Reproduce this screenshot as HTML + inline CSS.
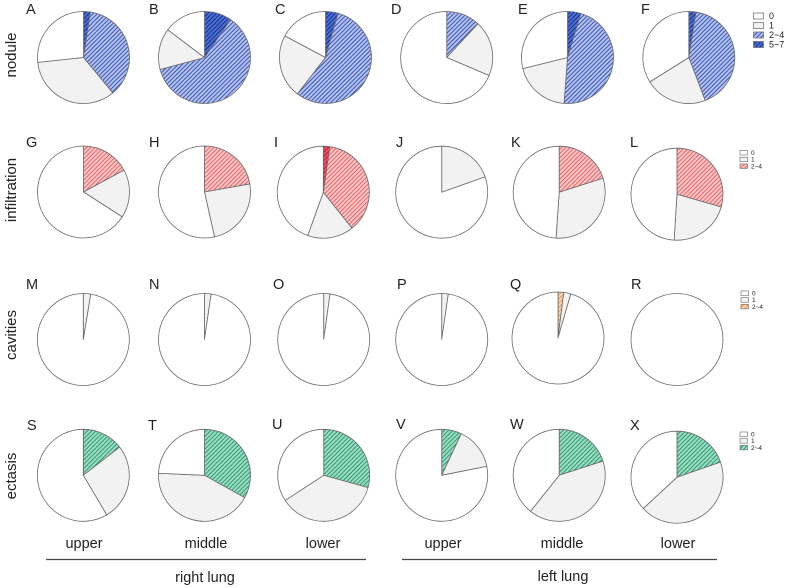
<!DOCTYPE html>
<html>
<head>
<meta charset="utf-8">
<style>
  html,body{margin:0;padding:0;background:#fff;}
  svg{display:block;}
  text{font-family:"Liberation Sans",Arial,sans-serif;fill:#222;}
</style>
</head>
<body>
<svg id="chart" xmlns="http://www.w3.org/2000/svg" width="787" height="588" viewBox="0 0 787 588">
  <defs>
    <pattern id="pBlueL" patternUnits="userSpaceOnUse" width="3" height="3" patternTransform="rotate(45)">
      <rect width="3" height="3" fill="#b4c2ef"/>
      <line x1="0.5" y1="0" x2="0.5" y2="3" stroke="#3d56b6" stroke-width="1"/>
    </pattern>
    <pattern id="pBlueD" patternUnits="userSpaceOnUse" width="3" height="3" patternTransform="rotate(45)">
      <rect width="3" height="3" fill="#4c70d6"/>
      <line x1="0.5" y1="0" x2="0.5" y2="3" stroke="#16308a" stroke-width="1.1"/>
    </pattern>
    <pattern id="pRedL" patternUnits="userSpaceOnUse" width="3" height="3" patternTransform="rotate(45)">
      <rect width="3" height="3" fill="#fac6c6"/>
      <line x1="0.5" y1="0" x2="0.5" y2="3" stroke="#e45a5e" stroke-width="0.9"/>
    </pattern>
    <pattern id="pRedD" patternUnits="userSpaceOnUse" width="3" height="3" patternTransform="rotate(45)">
      <rect width="3" height="3" fill="#ec5262"/>
      <line x1="0.5" y1="0" x2="0.5" y2="3" stroke="#c01c30" stroke-width="1"/>
    </pattern>
    <pattern id="pOrange" patternUnits="userSpaceOnUse" width="3" height="3" patternTransform="rotate(45)">
      <rect width="3" height="3" fill="#fbd6b6"/>
      <line x1="0.5" y1="0" x2="0.5" y2="3" stroke="#e8904c" stroke-width="0.9"/>
    </pattern>
    <pattern id="pGreen" patternUnits="userSpaceOnUse" width="3" height="3" patternTransform="rotate(45)">
      <rect width="3" height="3" fill="#9cdcc2"/>
      <line x1="0.5" y1="0" x2="0.5" y2="3" stroke="#2e9a72" stroke-width="1"/>
    </pattern>
  </defs>

  <!-- row labels -->
  <text transform="translate(16,55) rotate(-90)" text-anchor="middle" font-size="15">nodule</text>
  <text transform="translate(16,190) rotate(-90)" text-anchor="middle" font-size="15">infiltration</text>
  <text transform="translate(16,335) rotate(-90)" text-anchor="middle" font-size="15">cavities</text>
  <text transform="translate(16,476) rotate(-90)" text-anchor="middle" font-size="15">ectasis</text>

  <!-- panel letters -->
  <g font-size="14.5">
    <text x="26" y="14">A</text><text x="149" y="14">B</text><text x="275" y="14">C</text>
    <text x="391" y="14">D</text><text x="518" y="14">E</text><text x="641" y="14">F</text>
    <text x="26" y="147">G</text><text x="149" y="147">H</text><text x="274" y="147">I</text>
    <text x="396" y="147">J</text><text x="511" y="147">K</text><text x="630" y="147">L</text>
    <text x="26" y="289">M</text><text x="149" y="289">N</text><text x="273" y="289">O</text>
    <text x="397" y="289">P</text><text x="510" y="289">Q</text><text x="631" y="289">R</text>
    <text x="27" y="430">S</text><text x="148" y="430">T</text><text x="272" y="429">U</text>
    <text x="396" y="429">V</text><text x="510" y="429">W</text><text x="630" y="430">X</text>
  </g>

  <g id="pies"></g>

  <!-- legends -->
  <g font-size="9">
    <rect x="753.5" y="13" width="10" height="6" fill="#fff" stroke="#666" stroke-width="0.7"/>
    <text x="769" y="19">0</text>
    <rect x="753.5" y="22.5" width="10" height="6" fill="#f2f2f2" stroke="#666" stroke-width="0.7"/>
    <text x="769" y="28.5">1</text>
    <rect x="753.5" y="32" width="10" height="6" fill="url(#pBlueL)" stroke="#666" stroke-width="0.7"/>
    <text x="769" y="38">2~4</text>
    <rect x="753.5" y="41.5" width="10" height="6" fill="url(#pBlueD)" stroke="#666" stroke-width="0.7"/>
    <text x="769" y="47.5">5~7</text>
  </g>
  <g font-size="6.5">
    <rect x="740" y="150.5" width="7.5" height="4.5" fill="#fff" stroke="#666" stroke-width="0.6"/>
    <text x="751" y="155">0</text>
    <rect x="740" y="157.2" width="7.5" height="4.5" fill="#f2f2f2" stroke="#666" stroke-width="0.6"/>
    <text x="751" y="161.7">1</text>
    <rect x="740" y="163.9" width="7.5" height="4.5" fill="url(#pRedL)" stroke="#666" stroke-width="0.6"/>
    <text x="751" y="168.4">2~4</text>

    <rect x="741" y="291" width="7.5" height="4.5" fill="#fff" stroke="#666" stroke-width="0.6"/>
    <text x="752" y="295.5">0</text>
    <rect x="741" y="297.7" width="7.5" height="4.5" fill="#f2f2f2" stroke="#666" stroke-width="0.6"/>
    <text x="752" y="302.2">1</text>
    <rect x="741" y="304.4" width="7.5" height="4.5" fill="url(#pOrange)" stroke="#666" stroke-width="0.6"/>
    <text x="752" y="308.9">2~4</text>

    <rect x="740" y="432" width="7.5" height="4.5" fill="#fff" stroke="#666" stroke-width="0.6"/>
    <text x="751" y="436.5">0</text>
    <rect x="740" y="438.7" width="7.5" height="4.5" fill="#f2f2f2" stroke="#666" stroke-width="0.6"/>
    <text x="751" y="443.2">1</text>
    <rect x="740" y="445.4" width="7.5" height="4.5" fill="url(#pGreen)" stroke="#666" stroke-width="0.6"/>
    <text x="751" y="449.9">2~4</text>
  </g>

  <!-- bottom labels -->
  <g font-size="14.5" text-anchor="middle">
    <text x="84" y="548">upper</text>
    <text x="206" y="548">middle</text>
    <text x="323" y="548">lower</text>
    <text x="443" y="548">upper</text>
    <text x="562" y="548">middle</text>
    <text x="678" y="548">lower</text>
    <text x="205" y="582">right lung</text>
    <text x="563" y="581">left lung</text>
  </g>
  <line x1="46" y1="559.5" x2="366" y2="559.5" stroke="#444" stroke-width="1.3"/>
  <line x1="402" y1="559.5" x2="717" y2="559.5" stroke="#444" stroke-width="1.3"/>
</svg>
<script>
(function(){
  var g = document.getElementById('pies');
  var NS = 'http://www.w3.org/2000/svg';
  var R = 46;
  var rows = [
    {fills:['url(#pBlueD)','url(#pBlueL)','#f2f2f2','#ffffff'], pies:[
      [83.5,57.5,[0.024,0.39,0.733]],
      [204.5,57.5,[0.096,0.708,0.853]],
      [325.5,57.5,[0.044,0.605,0.828]],
      [446.7,57.5,[0,0.119,0.314]],
      [567.5,57.5,[0.047,0.512,0.711]],
      [688.8,57.5,[0.025,0.442,0.661]]
    ]},
    {fills:['url(#pRedD)','url(#pRedL)','#f2f2f2','#ffffff'], pies:[
      [83.5,192,[0,0.171,0.341]],
      [204.5,192,[0,0.222,0.465]],
      [323.3,192.2,[0.023,0.393,0.555]],
      [441.7,192.2,[0,0,0.196]],
      [559.2,192.2,[0,0.201,0.511]],
      [677,194.2,[0,0.295,0.510]]
    ]},
    {fills:['url(#pOrange)','url(#pOrange)','#f2f2f2','#ffffff'], pies:[
      [83.3,339.5,[0,0,0.026]],
      [204.5,339.5,[0,0,0.023]],
      [323.7,339.5,[0,0,0.022]],
      [441.7,339.5,[0,0,0.023]],
      [558,338,[0,0.02,0.045]],
      [677,339.5,[0,0,0]]
    ]},
    {fills:['url(#pGreen)','url(#pGreen)','#f2f2f2','#ffffff'], pies:[
      [83.3,475.3,[0,0.145,0.415]],
      [204.5,475.3,[0,0.331,0.757]],
      [323.7,475.3,[0,0.293,0.658]],
      [441.7,475.3,[0,0.07,0.219]],
      [559.2,475.3,[0,0.2,0.607]],
      [677,477.2,[0,0.197,0.631]]
    ]}
  ];
  function pt(cx,cy,f){
    var a = 2*Math.PI*f;
    return [cx + R*Math.sin(a), cy - R*Math.cos(a)];
  }
  rows.forEach(function(row){
    row.pies.forEach(function(p){
      var cx=p[0], cy=p[1], b=p[2];
      var edges=[0,b[0],b[1],b[2],1];
      for(var i=0;i<4;i++){
        var s=edges[i], e=edges[i+1];
        if(e-s<=1e-6) continue;
        var el;
        if(e-s>=0.9999){
          el=document.createElementNS(NS,'circle');
          el.setAttribute('cx',cx);el.setAttribute('cy',cy);el.setAttribute('r',R);
        } else {
          var p1=pt(cx,cy,s), p2=pt(cx,cy,e);
          var large=(e-s)>0.5?1:0;
          el=document.createElementNS(NS,'path');
          el.setAttribute('d','M'+cx+' '+cy+' L'+p1[0].toFixed(2)+' '+p1[1].toFixed(2)+
            ' A'+R+' '+R+' 0 '+large+' 1 '+p2[0].toFixed(2)+' '+p2[1].toFixed(2)+' Z');
        }
        el.setAttribute('fill',row.fills[i]);
        el.setAttribute('stroke','#6a6a6a');
        el.setAttribute('stroke-width','0.8');
        el.setAttribute('stroke-linejoin','round');
        g.appendChild(el);
      }
    });
  });
})();
</script>
</body>
</html>
